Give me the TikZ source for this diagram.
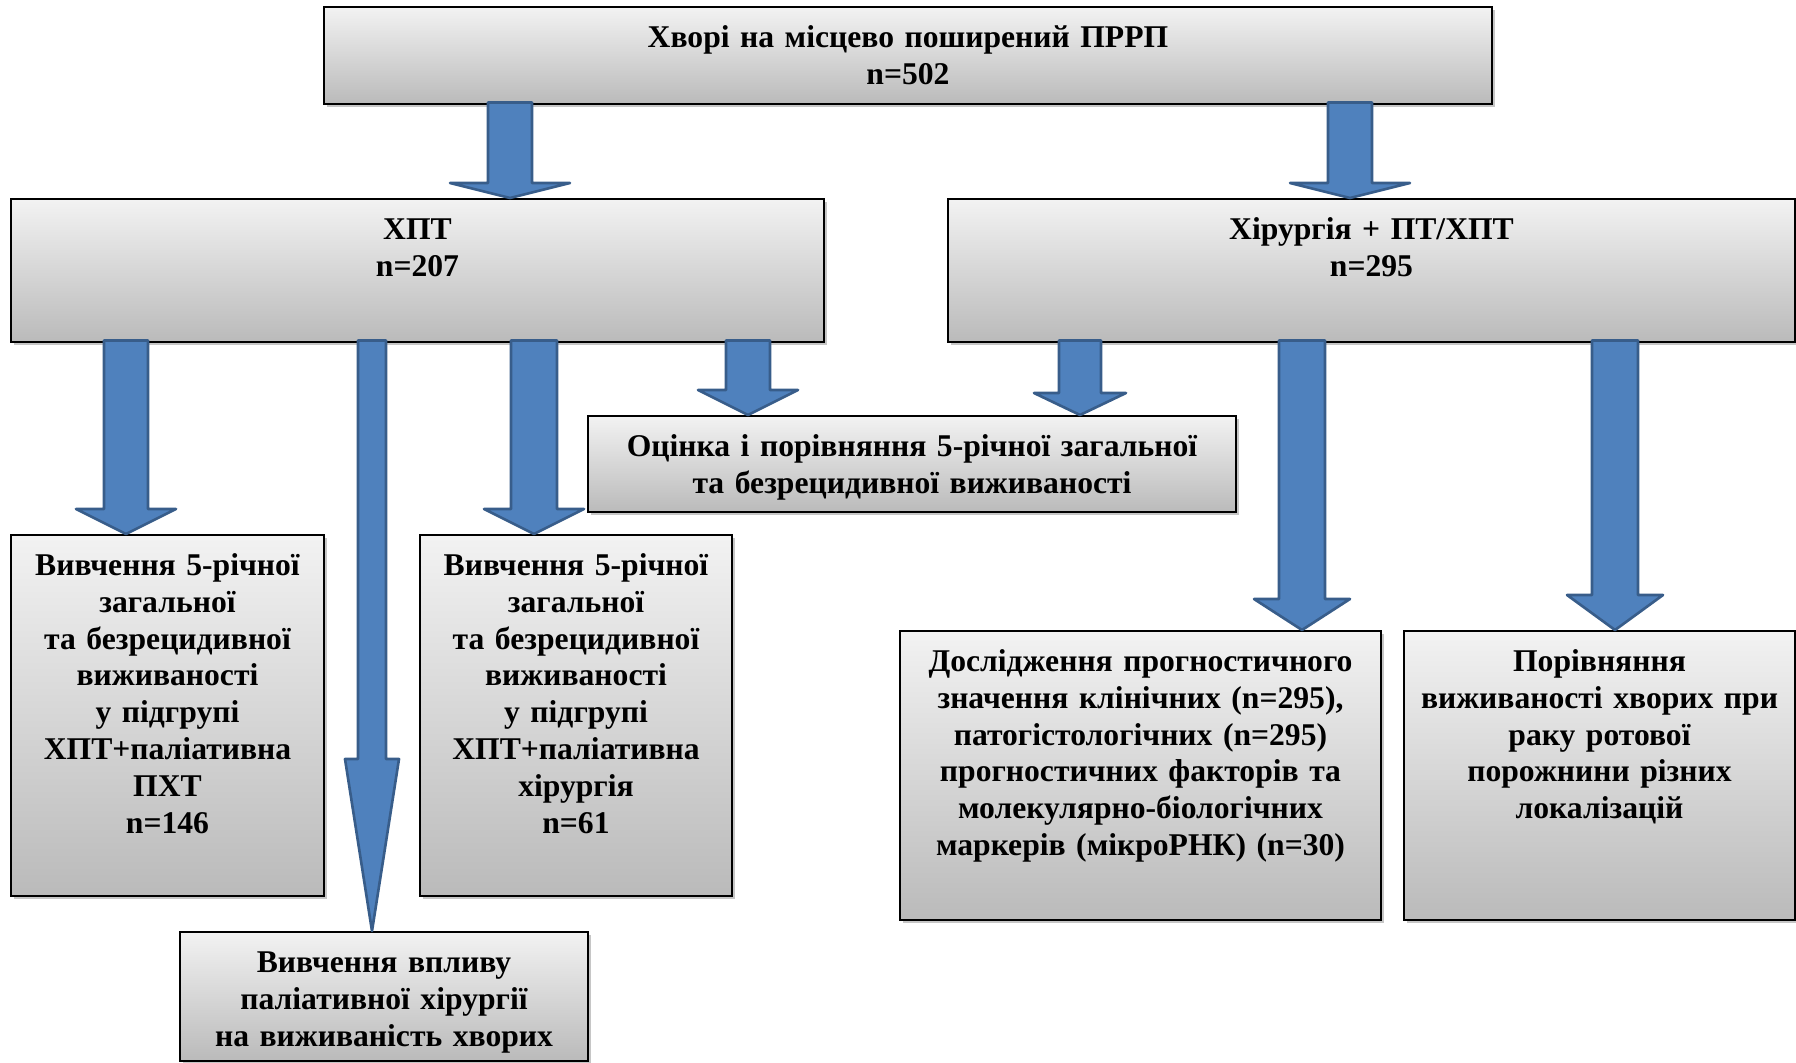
\documentclass[tikz,border=0pt]{standalone}
\usepackage{fontspec}
\setmainfont{Liberation Serif}
\usepackage{tikz}
\usetikzlibrary{calc,shadows}
\definecolor{aFill}{HTML}{4F81BD}
\definecolor{aLine}{HTML}{385D8A}
\newcommand{\boxfont}{\fontsize{9}{10.5}\selectfont\bfseries}
\tikzset{blk/.style={draw=black, line width=0.7pt, top color=black!5,
  bottom color=black!27, drop shadow={shadow xshift=0.9pt,
  shadow yshift=-0.9pt, opacity=0.45}, align=center, inner sep=0pt,
  anchor=north, font=\boxfont, text height=0.40cm}}
\tikzset{barrow/.style={fill=aFill, draw=aLine, line width=0.75pt,
  line join=round}}
% block arrow: x, from, to, half shaft, half head, head length
\newcommand{\blockarrow}[6]{%
  \path (#1,0 |- #2.south) coordinate (bs) (#1,0 |- #3.north) coordinate (bt);
  \filldraw[barrow] ($(bs)+(-#4,0.03)$) -- ($(bt)+(-#4,#6)$) -- ($(bt)+(-#5,#6)$)
    -- (bt) -- ($(bt)+(#5,#6)$) -- ($(bt)+(#4,#6)$) -- ($(bs)+(#4,0.03)$) -- cycle;}
\begin{document}
\begin{tikzpicture}
        \useasboundingbox (0,0) rectangle (17.96,-10.63);
        %% boxes
        \node (total) at (9.08,-0.06) [blk, text width=11.68cm, text depth=0.57cm]
            {Хворі на місцево поширений ПРРП\\n=502};
        \node (xpt) at (4.175,-1.98) [blk, text width=8.13cm, text depth=1.03cm]
            {ХПТ\\n=207};
        \node (surg) at (13.715,-1.98) [blk, text width=8.47cm, text depth=1.03cm]
            {Хірургія + ПТ/ХПТ\\n=295};
        \node (cmp) at (9.12,-4.15) [blk, text width=6.48cm, text depth=0.56cm]
            {Оцінка і порівняння 5-річної загальної\\та безрецидивної виживаності};
        \node (pxt) at (1.675,-5.34) [blk, text width=3.13cm, text depth=3.21cm]
            {Вивчення 5-річної\\загальної\\та безрецидивної\\виживаності\\у підгрупі\\ХПТ+паліативна\\ПХТ\\n=146};
        \node (psurg) at (5.76,-5.34) [blk, text width=3.12cm, text depth=3.21cm]
            {Вивчення 5-річної\\загальної\\та безрецидивної\\виживаності\\у підгрупі\\ХПТ+паліативна\\хірургія\\n=61};
        \node (infl) at (3.84,-9.31) [blk, text width=4.08cm, text depth=0.89cm]
            {Вивчення впливу\\паліативної хірургії\\на виживаність хворих};
        \node (markers) at (11.405,-6.30) [blk, text width=4.81cm, text depth=2.49cm]
            {Дослідження прогностичного\\значення клінічних (n=295),\\патогістологічних (n=295)\\прогностичних факторів та\\молекулярно-біологічних\\маркерів (мікроРНК) (n=30)};
        \node (sites) at (15.995,-6.30) [blk, text width=3.91cm, text depth=2.49cm]
            {Порівняння\\виживаності хворих при\\раку ротової\\порожнини різних\\локалізацій};
        %% arrows
        \blockarrow{5.10}{total}{xpt}{0.22}{0.60}{0.15}
        \blockarrow{13.50}{total}{surg}{0.22}{0.60}{0.15}
        \blockarrow{1.26}{xpt}{pxt}{0.22}{0.50}{0.25}
        \blockarrow{3.72}{xpt}{infl}{0.14}{0.27}{1.72}
        \blockarrow{5.34}{xpt}{psurg}{0.23}{0.50}{0.25}
        \blockarrow{7.48}{xpt}{cmp}{0.22}{0.50}{0.25}
        \blockarrow{10.80}{surg}{cmp}{0.21}{0.46}{0.22}
        \blockarrow{13.02}{surg}{markers}{0.23}{0.48}{0.31}
        \blockarrow{16.15}{surg}{sites}{0.23}{0.48}{0.35}
\end{tikzpicture}
\end{document}
